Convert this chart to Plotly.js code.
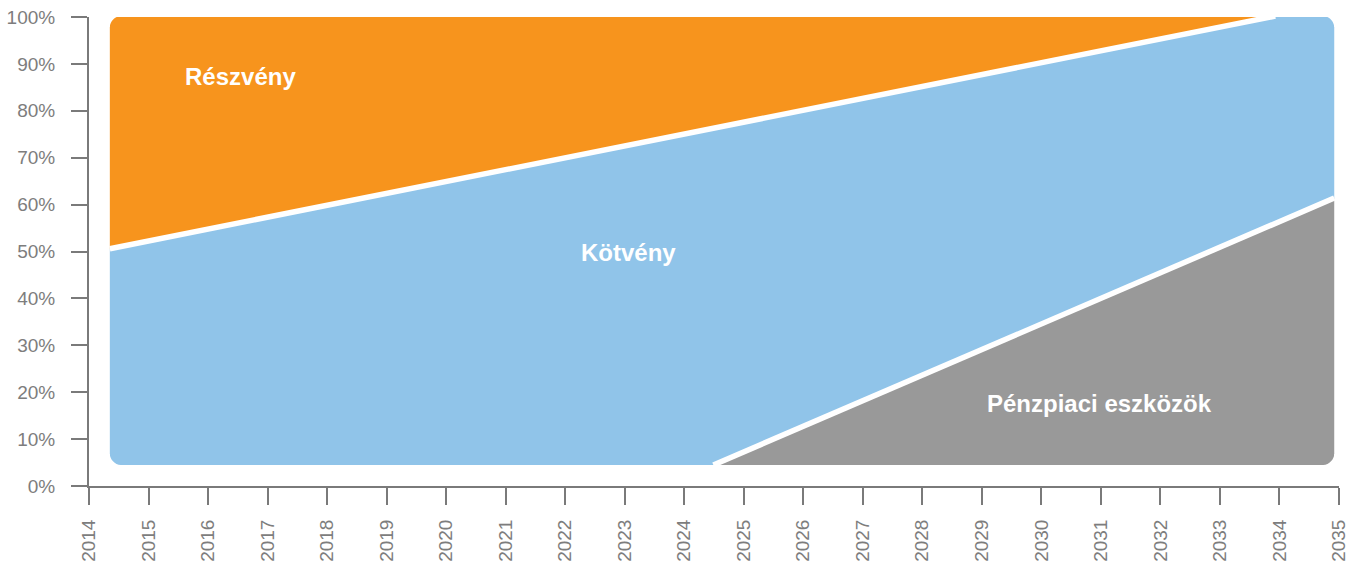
<!DOCTYPE html>
<html>
<head>
<meta charset="utf-8">
<script src="https://cdn.plot.ly/plotly-3.0.1.min.js"></script>
<style>
  html, body { margin: 0; padding: 0; background: #ffffff; }
  #chart { width: 1363px; height: 563px; }
</style>
</head>
<body>
<div id="chart"></div>
<script>
// ---- Data ----
// Breakpoint years of the glide path
const years = [2014.35, 2024.49, 2033.93, 2034.92];
// Bottom of the stacked area (%)
const baseLevel = [4.48, 4.48, 4.48, 4.48];
// Upper boundary of "Pénzpiaci eszközök" (money market), %
const moneyTop = [4.48, 4.48, 56.0, 61.4];
// Upper boundary of "Kötvény" (bonds), %
const bondTop = [50.6, 76.2, 100.2, 100.2];
// Upper boundary of "Részvény" (equities), %
const equityTop = [100.2, 100.2, 100.2, 100.2];

// Separator lines (boundaries between the areas)
const moneyLineX = [2024.49, 2034.92];
const moneyLineY = [4.48, 61.4];
const bondLineX = [2014.35, 2033.93];
const bondLineY = [50.6, 100.2];

// Axis ticks
const xTickVals = [2014, 2015, 2016, 2017, 2018, 2019, 2020, 2021, 2022, 2023, 2024,
                   2025, 2026, 2027, 2028, 2029, 2030, 2031, 2032, 2033, 2034, 2035];
const xTickText = xTickVals.map(String);
const yTickVals = [0, 10, 20, 30, 40, 50, 60, 70, 80, 90, 100];
const yTickText = ['0%', '10%', '20%', '30%', '40%', '50%', '60%', '70%', '80%', '90%', '100%'];

// Labels
const seriesNames = ['Pénzpiaci eszközök', 'Kötvény', 'Részvény'];

// ---- Styles ----
const colMoney = '#999999';
const colBond = '#90C4E9';
const colEquity = '#F7941D';
const axisCol = '#7a7a7a';
const tickFont = { family: 'Liberation Sans, Arial, sans-serif', size: 19, color: '#7d7d7d' };
const labelFont = { family: 'Liberation Sans, Arial, sans-serif', size: 24, color: '#ffffff', weight: 'bold' };
const sepWidth = 5.5;

const traces = [
  { x: years, y: baseLevel, mode: 'lines', line: { width: 0, color: colMoney }, hoverinfo: 'skip', showlegend: false },
  { x: years, y: moneyTop, mode: 'lines', fill: 'tonexty', fillcolor: colMoney, line: { width: 0, color: colMoney }, name: seriesNames[0], showlegend: false },
  { x: years, y: bondTop, mode: 'lines', fill: 'tonexty', fillcolor: colBond, line: { width: 0, color: colBond }, name: seriesNames[1], showlegend: false },
  { x: years, y: equityTop, mode: 'lines', fill: 'tonexty', fillcolor: colEquity, line: { width: 0, color: colEquity }, name: seriesNames[2], showlegend: false },
  { x: moneyLineX, y: moneyLineY, mode: 'lines', line: { width: sepWidth, color: '#ffffff' }, showlegend: false, hoverinfo: 'skip' },
  { x: bondLineX, y: bondLineY, mode: 'lines', line: { width: sepWidth, color: '#ffffff' }, showlegend: false, hoverinfo: 'skip' }
];

// Rounded-corner masks (white), pixel-sized, anchored at area corners
const r = 11, k = +(0.448 * r).toFixed(2), e = 3;
function cornerMask(xAnchor, yAnchor, sx, sy) {
  const p = (a, b) => (a * sx) + ',' + (b * sy);
  const path = 'M' + p(-e, -e) + ' L' + p(r, -e) + ' L' + p(r, 0) +
               ' C' + p(k, 0) + ' ' + p(0, r - k) + ' ' + p(0, r) +
               ' L' + p(-e, r) + ' Z';
  return {
    type: 'path', xref: 'x', yref: 'y', xsizemode: 'pixel', ysizemode: 'pixel',
    xanchor: xAnchor, yanchor: yAnchor, path: path,
    fillcolor: '#ffffff', line: { width: 0 }, layer: 'above'
  };
}
const xL = years[0], xR = years[years.length - 1];
const yB = baseLevel[0], yT = equityTop[0];
const shapes = [
  cornerMask(xL, yT, 1, -1),
  cornerMask(xR, yT, -1, -1),
  cornerMask(xL, yB, 1, 1),
  cornerMask(xR, yB, -1, 1)
];

const layout = {
  width: 1363, height: 563,
  margin: { l: 89, r: 24, t: 17, b: 77, pad: 0 },
  paper_bgcolor: '#ffffff', plot_bgcolor: '#ffffff',
  showlegend: false,
  xaxis: {
    range: [2014, 2035], tickvals: xTickVals, ticktext: xTickText, tickangle: -90,
    showgrid: false, zeroline: false, showline: true, linecolor: axisCol, linewidth: 2,
    ticks: 'outside', ticklen: 17, tickwidth: 2, tickcolor: axisCol,
    tickfont: tickFont, ticklabelstandoff: 7, fixedrange: true
  },
  yaxis: {
    range: [0, 100], tickvals: yTickVals, ticktext: yTickText,
    showgrid: false, zeroline: false, showline: true, linecolor: axisCol, linewidth: 2,
    ticks: 'outside', ticklen: 16, tickwidth: 2, tickcolor: axisCol,
    tickfont: tickFont, ticklabelstandoff: 12, fixedrange: true
  },
  shapes: shapes,
  annotations: [
    { x: 2016.54, y: 87.4, xref: 'x', yref: 'y', text: seriesNames[2], showarrow: false, font: labelFont },
    { x: 2023.06, y: 49.7, xref: 'x', yref: 'y', text: seriesNames[1], showarrow: false, font: labelFont },
    { x: 2030.97, y: 17.5, xref: 'x', yref: 'y', text: seriesNames[0], showarrow: false, font: labelFont }
  ]
};

Plotly.newPlot('chart', traces, layout, { staticPlot: true, displayModeBar: false });
</script>
</body>
</html>
